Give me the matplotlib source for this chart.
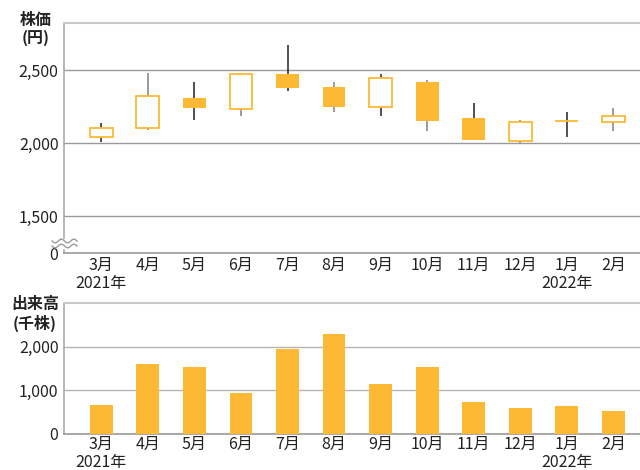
import matplotlib.pyplot as plt
import numpy as np
from matplotlib.patches import Rectangle

plt.rcParams['font.family'] = ['Noto Sans CJK JP', 'DejaVu Sans']

# --- データ ---
months = ['3月', '4月', '5月', '6月', '7月', '8月', '9月', '10月', '11月', '12月', '1月', '2月']
years = {0: '2021年', 10: '2022年'}
price_open = [2040, 2100, 2308, 2235, 2473, 2386, 2244, 2420, 2174, 2011, 2150, 2146]
price_close = [2100, 2322, 2237, 2470, 2374, 2244, 2447, 2148, 2018, 2144, 2152, 2183]
price_high = [2137, 2482, 2420, 2475, 2673, 2420, 2475, 2432, 2276, 2158, 2212, 2240]
price_low = [2005, 2087, 2155, 2187, 2356, 2215, 2183, 2080, 2018, 2000, 2039, 2080]
volume = [670, 1600, 1540, 940, 1945, 2290, 1150, 1540, 740, 600, 650, 530]

orange = '#FDB933'
grid_c = '#999999'
bar_w = 0.49

fig = plt.figure(figsize=(6.4, 4.7), dpi=100)
ax1 = fig.add_axes([64 / 640, 1 - 253 / 470, 576 / 640, 230 / 470])
ax2 = fig.add_axes([64 / 640, 1 - 434 / 470, 576 / 640, 131 / 470])

x = np.arange(len(months))
tick_labels = [m + ('\n' + years[i] if i in years else '') for i, m in enumerate(months)]

# --- ローソク足 ---
for i in x:
    o, c = price_open[i], price_close[i]
    wick_c = '#222222' if i % 2 == 0 else '#808080'
    ax1.vlines(i, price_low[i], price_high[i], color=wick_c, lw=1.1, zorder=2)
    rising = c >= o
    ax1.bar(i, abs(c - o), bottom=min(o, c), width=bar_w,
            color='white' if rising else orange,
            edgecolor=orange, linewidth=1.3 if rising else 0, zorder=3)

y_bottom = 1247
ax1.set_ylim(y_bottom, 2822)
ax1.set_yticks([y_bottom, 1500, 2000, 2500])
ax1.set_yticklabels(['0', '1,500', '2,000', '2,500'])
for v in [1500, 2000, 2500]:
    ax1.axhline(v, color=grid_c, lw=1.0, zorder=1)

# --- 出来高 ---
ax2.bar(x, volume, width=bar_w, color=orange, zorder=3)
ax2.set_ylim(0, 3000)
ax2.set_yticks([0, 1000, 2000])
ax2.set_yticklabels(['0', '1,000', '2,000'])
for v in [1000, 2000]:
    ax2.axhline(v, color='#b5b5b5', lw=1.0, zorder=1)

for ax in (ax1, ax2):
    ax.set_xlim(-0.8, 11.57)
    ax.set_xticks(x)
    ax.set_xticklabels(tick_labels, linespacing=1.05)
    ax.tick_params(length=0, labelsize=11.5, colors='#222222', pad=4)
    ax.spines['right'].set_visible(False)
    ax.spines['top'].set_color('#c8c8c8')
    ax.spines['top'].set_linewidth(1.5)
    ax.spines['left'].set_color('#aaaaaa')
    ax.spines['left'].set_linewidth(1.2)
    ax.spines['bottom'].set_color('#999999')
    ax.spines['bottom'].set_linewidth(1.2)
ax1.tick_params(axis='x', pad=3)
ax2.tick_params(axis='x', pad=1.5)

# --- 軸の省略記号 ---
tr = fig.dpi_scale_trans
fig.patches.append(Rectangle((0.615, (470 - 248) / 100), 0.05, 0.09,
                             transform=tr, color='white', zorder=10))
wx = np.linspace(52, 77, 60)
for py in (241, 246):
    wy = py + 1.8 * np.sin((wx - 52) / 12.5 * 2 * np.pi)
    fig.lines.append(plt.Line2D(wx / 100, (470 - wy) / 100, transform=tr,
                                color='#999999', lw=1.0, zorder=11))

# --- 軸ラベル ---
fig.text(36 / 640, 1 - 29 / 470, '株価\n(円)', ha='center', va='center',
         fontsize=11.5, fontweight='bold', color='#222222', linespacing=1.15)
fig.text(35 / 640, 1 - 314 / 470, '出来高\n(千株)', ha='center', va='center',
         fontsize=11.5, fontweight='bold', color='#222222', linespacing=1.15)

fig.savefig('out.png', dpi=100)
